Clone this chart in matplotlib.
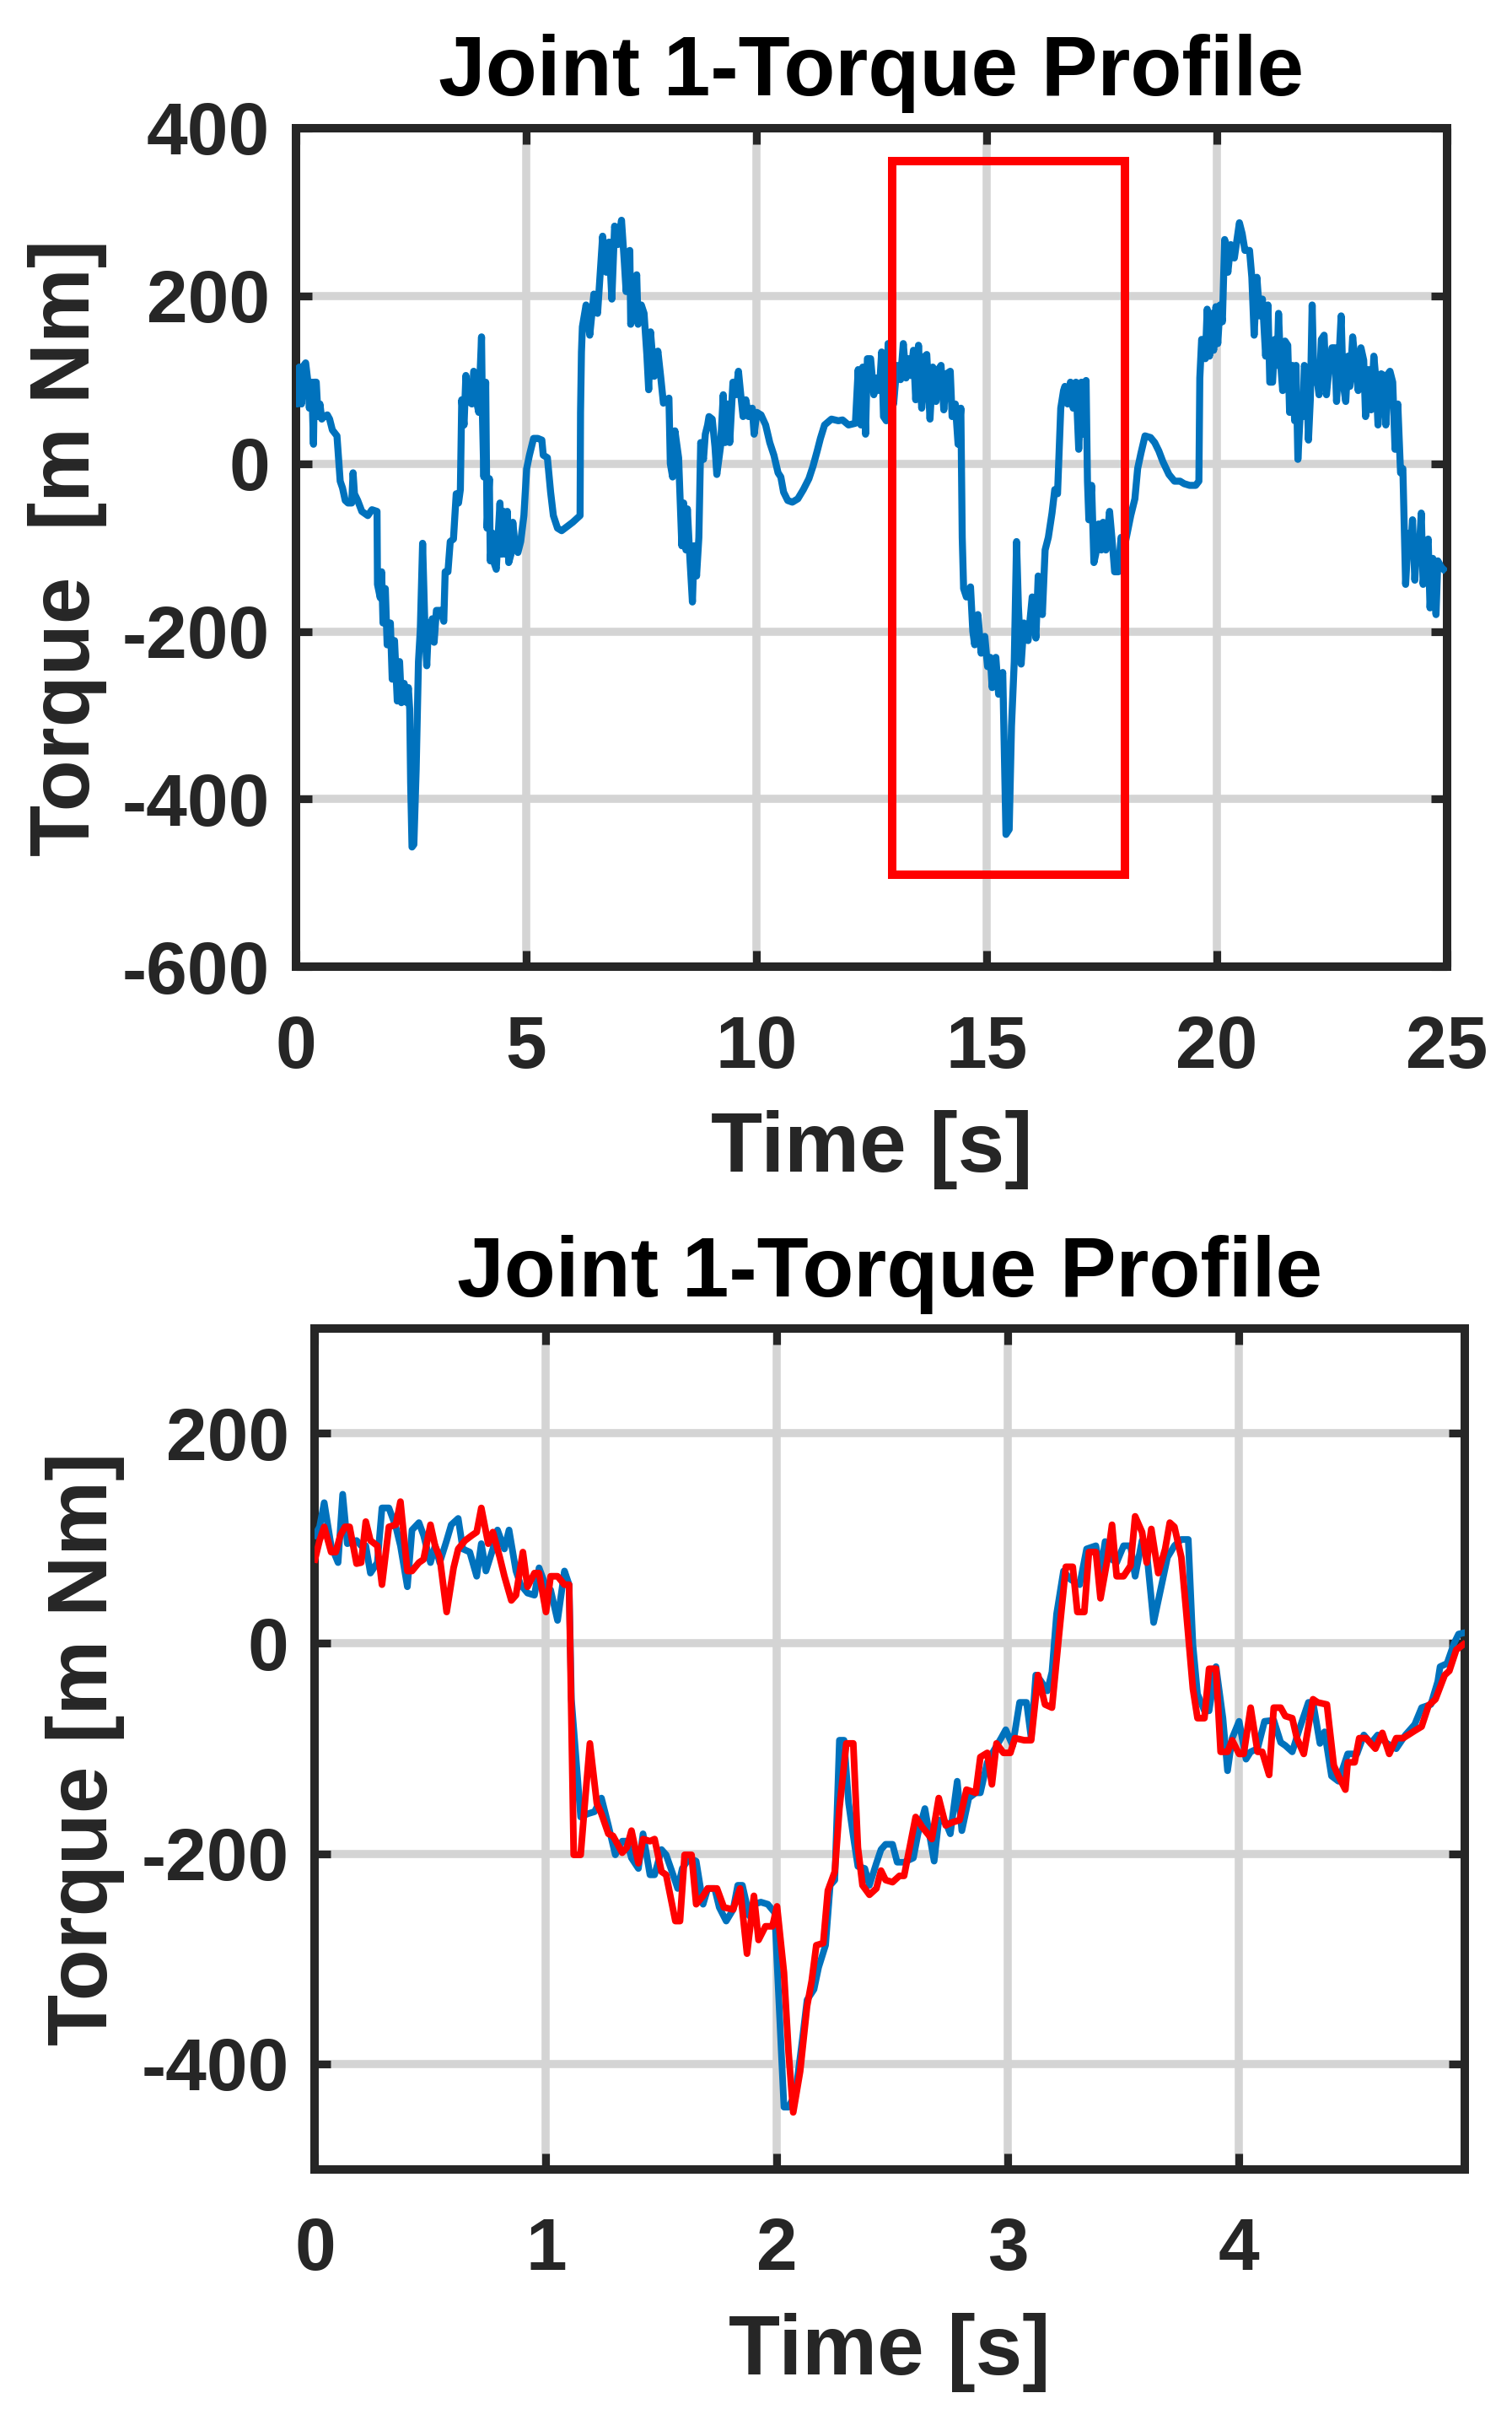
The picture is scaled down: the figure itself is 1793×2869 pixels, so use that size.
import matplotlib
matplotlib.use("Agg")
import matplotlib.pyplot as plt
from matplotlib.patches import Rectangle

plt.rcParams["font.family"] = ["Liberation Sans", "DejaVu Sans"]
plt.rcParams["font.weight"] = "bold"
plt.rcParams["axes.unicode_minus"] = False

INK = "#262626"
GRID = "#d4d4d4"
BLUE = "#0072bd"
RED = "#ff0000"

# --- full run, 0..25 s ---
t_full = [
    0.00, 0.03, 0.07, 0.12, 0.17, 0.21, 0.26, 0.29, 0.34, 0.38,
    0.40, 0.44, 0.48, 0.52, 0.56, 0.61, 0.68, 0.73, 0.79, 0.89,
    0.92, 0.96, 1.01, 1.07, 1.13, 1.21, 1.24, 1.27, 1.34, 1.43,
    1.56, 1.65, 1.76, 1.77, 1.83, 1.86, 1.89, 1.94, 1.98, 2.05,
    2.09, 2.14, 2.20, 2.25, 2.29, 2.35, 2.41, 2.44, 2.47, 2.49,
    2.52, 2.56, 2.61, 2.66, 2.70, 2.75, 2.80, 2.84, 2.88, 2.92,
    2.96, 3.00, 3.05, 3.14, 3.21, 3.24, 3.30, 3.35, 3.42, 3.48,
    3.53, 3.57, 3.60, 3.65, 3.69, 3.75, 3.82, 3.86, 3.91, 3.94,
    3.97, 4.00, 4.03, 4.05, 4.08, 4.12, 4.15, 4.20, 4.22, 4.27,
    4.30, 4.35, 4.40, 4.43, 4.47, 4.51, 4.55, 4.59, 4.62, 4.67,
    4.71, 4.76, 4.82, 4.88, 4.95, 5.01, 5.07, 5.16, 5.25, 5.34,
    5.37, 5.46, 5.53, 5.59, 5.68, 5.77, 5.89, 6.01, 6.17, 6.18,
    6.20,
    6.22, 6.30, 6.38, 6.47, 6.55, 6.66, 6.74, 6.80, 6.86, 6.92,
    6.99, 7.07, 7.13, 7.17, 7.25, 7.27, 7.33, 7.40, 7.43, 7.50,
    7.56, 7.62, 7.66, 7.70, 7.78, 7.86, 7.92, 7.98, 8.10, 8.13,
    8.18, 8.23, 8.31,
    8.38, 8.42, 8.47, 8.50, 8.55, 8.61, 8.65, 8.70, 8.75, 8.79,
    8.85, 8.89, 8.94, 8.97, 9.04, 9.10, 9.14, 9.22, 9.28, 9.32,
    9.37, 9.42, 9.49, 9.55, 9.61, 9.66, 9.71, 9.77, 9.83, 9.91,
    9.95, 10.01, 10.10, 10.20, 10.29, 10.38, 10.47, 10.53, 10.59, 10.68,
    10.78, 10.90, 11.02, 11.14, 11.23, 11.32, 11.39, 11.48, 11.63, 11.78,
    11.87, 12.00, 12.15, 12.21, 12.27, 12.31, 12.37, 12.41, 12.48, 12.55,
    12.61, 12.67, 12.72, 12.76, 12.82, 12.86, 12.92, 12.98, 13.05, 13.13,
    13.19, 13.25, 13.31, 13.35, 13.41, 13.46, 13.52, 13.59, 13.66, 13.70,
    13.77, 13.83, 13.90, 13.95, 14.01, 14.07, 14.13, 14.21, 14.25, 14.32,
    14.38, 14.44, 14.47, 14.50, 14.56, 14.65, 14.70, 14.74, 14.81, 14.88,
    14.96, 15.02, 15.08, 15.12, 15.20, 15.26, 15.35, 15.38, 15.42, 15.49,
    15.54, 15.60, 15.65, 15.69, 15.75, 15.81, 15.90, 15.99, 16.07, 16.12,
    16.21, 16.27, 16.34, 16.42, 16.48, 16.54, 16.61, 16.67,
    16.70, 16.76, 16.82, 16.88, 16.94, 17.00, 17.06, 17.09, 17.16, 17.19,
    17.22, 17.28, 17.33, 17.37, 17.43, 17.49, 17.53, 17.59, 17.67, 17.72,
    17.78, 17.86, 17.92, 17.98, 18.13, 18.22, 18.28, 18.35, 18.44, 18.56,
    18.65, 18.74, 18.83, 18.96, 19.08, 19.20, 19.29, 19.41, 19.54, 19.61,
    19.63, 19.67, 19.75, 19.79, 19.84, 19.89, 19.93, 19.98, 20.02, 20.07,
    20.12,
    20.17, 20.24, 20.30, 20.38, 20.49, 20.55, 20.61, 20.71, 20.76, 20.81,
    20.87, 20.93, 20.99,
    21.06, 21.11, 21.15, 21.21, 21.26, 21.31, 21.34, 21.38, 21.43, 21.48,
    21.54, 21.58, 21.64, 21.69, 21.72, 21.76, 21.83, 21.87, 21.90, 21.95,
    21.99, 22.03, 22.07, 22.11, 22.16, 22.22, 22.27, 22.33, 22.38, 22.44,
    22.50, 22.56, 22.60, 22.65, 22.70, 22.74, 22.80, 22.85, 22.89, 22.95,
    23.02, 23.07, 23.13, 23.19, 23.23, 23.29, 23.35, 23.41, 23.46, 23.50,
    23.57, 23.63, 23.67, 23.72, 23.76, 23.82, 23.87, 23.93, 23.99, 24.04,
    24.07, 24.10, 24.16, 24.21, 24.25, 24.30, 24.35, 24.39, 24.44, 24.48,
    24.54, 24.59, 24.63, 24.69, 24.76, 24.80, 24.88, 24.92,
]
tau_full = [
    112, 71, 115, 71, 117, 120, 97, 66, 97, 23,
    97, 97, 56, 71, 53, 56, 58, 53, 40, 33,
    10, -21, -29, -44, -47, -47, -11, -36, -44, -57,
    -62, -55, -57, -144, -160, -129, -190, -149, -216, -190,
    -257, -211, -283, -236, -285, -262, -285, -267, -293, -380,
    -457, -454, -365, -236, -198, -95, -195, -241, -190, -200,
    -185, -213, -175, -175, -188, -129, -129, -93, -90, -36,
    -47, -31, 76, 46, 105, 74, 71, 110, 105, 69,
    61, 110, 151, 56, -16, 97, -77, -18, -116, -83,
    -118, -126, -77, -47, -108, -57, -108, -57, -118, -108,
    -70, -98, -106, -93, -62, -6, 10, 30, 30, 28,
    10, 7, -34, -62, -77, -80, -75, -70, -62, 61,
    133,
    163, 189, 153, 202, 179, 271, 228, 264, 196, 283,
    261, 290, 241, 205, 254, 166, 189, 225, 166, 189,
    179, 130, 88, 157, 104, 134, 104, 72, 78, 0,
    -16, 39, 7,
    -98, -47, -103, -54, -108, -165, -98, -134, -88, 25,
    5, 35, 46, 56, 53, 20, -13, 20, 82, 25,
    71, 25, 97, 82, 110, 82, 56, 76, 56, 66,
    35, 61, 58, 46, 25, 10, -11, -16, -34, -44,
    -46, -42, -31, -18, -3, 15, 30, 46, 53, 51,
    52, 46, 48, 112, 46, 115, 35, 125, 125, 82,
    102, 87, 133, 56, 51, 143, 105, 71, 117, 100,
    143, 102, 125, 105, 135, 76, 141, 66, 128, 130,
    53, 115, 74, 112, 117, 64, 107, 110, 56, 71,
    23, 66, -88, -149, -159, -147, -200, -216, -180, -226,
    -206, -242, -231, -267, -231, -275, -249, -334, -442, -436,
    -313, -236, -93, -170, -239, -190, -211, -159, -208, -134,
    -180, -103, -88, -59, -31, -36, 66, 87,
    92, 71, 97, 66, 97, 17, 97, 35, 99, -21,
    -67, -26, -118, -108, -72, -103, -70, -103, -57, -88,
    -129, -129, -88, -103, -62, -42, -6, 12, 33, 31,
    25, 15, 2, -13, -21, -21, -24, -26, -26, -21,
    102, 148, 125, 184, 128, 179, 135, 187, 143, 189,
    169,
    267, 228, 261, 245, 287, 274, 254, 254, 222, 153,
    222, 176, 196,
    128, 189, 97, 97, 148, 117, 179, 123, 87, 146,
    141, 61, 117, 51, 117, 5, 79, 56, 117, 107,
    28, 76, 189, 97, 107, 82, 148, 153, 82, 115,
    138, 138, 74, 123, 176, 97, 74, 128, 92, 151,
    112, 87, 138, 123, 56, 112, 64, 128, 97, 46,
    107, 105, 46, 107, 110, 97, 17, 71, -11, -6,
    -77, -144, -83, -103, -67, -139, -88, -108, -59, -144,
    -108, -90, -172, -113, -180, -116, -124, -126,
]

# zoom box on the full run: [t0, t1] x [tau0, tau1]
box_t = [12.95, 18.0]
box_tau = [-490, 360]

# --- zoomed window, 0..5 s, measured (blue) vs red ---
t_blue = [
    0.00, 0.02, 0.04, 0.07, 0.10, 0.12, 0.14, 0.18, 0.20, 0.22,
    0.24, 0.27, 0.29, 0.32, 0.35, 0.37, 0.40, 0.42, 0.45, 0.47,
    0.50, 0.52, 0.54, 0.57, 0.59, 0.62, 0.64, 0.67, 0.70, 0.72,
    0.74, 0.77, 0.79, 0.82, 0.84, 0.87, 0.89, 0.92, 0.95, 0.97,
    1.00, 1.02, 1.05, 1.08, 1.10, 1.11, 1.15, 1.18, 1.21, 1.24,
    1.27, 1.30, 1.33, 1.35, 1.37, 1.40, 1.42, 1.45, 1.47, 1.50,
    1.52, 1.55, 1.57, 1.59, 1.62, 1.65, 1.68, 1.70, 1.73, 1.75,
    1.78, 1.81, 1.83, 1.85, 1.88, 1.90, 1.93, 1.96, 1.99, 2.00,
    2.03, 2.05, 2.08, 2.11, 2.13, 2.16, 2.18, 2.21, 2.23, 2.25,
    2.27, 2.29, 2.31, 2.33, 2.35, 2.38, 2.40, 2.43, 2.45, 2.47,
    2.50, 2.52, 2.55, 2.59, 2.61, 2.64, 2.68, 2.70, 2.73, 2.75,
    2.78, 2.80, 2.83, 2.86, 2.88, 2.91, 2.93, 2.97, 2.99, 3.02,
    3.05, 3.08, 3.10, 3.12, 3.14, 3.17, 3.19, 3.21, 3.24, 3.27,
    3.31, 3.34, 3.38, 3.40, 3.42, 3.45, 3.47, 3.50, 3.53, 3.55,
    3.58, 3.60, 3.63, 3.66, 3.69, 3.72, 3.75, 3.78, 3.80, 3.82,
    3.85, 3.87, 3.90, 3.93, 3.95, 3.97, 4.00, 4.03, 4.05, 4.08,
    4.11, 4.15, 4.18, 4.20, 4.23, 4.26, 4.30, 4.32, 4.35, 4.37,
    4.40, 4.43, 4.47, 4.51, 4.54, 4.57, 4.60, 4.64, 4.68, 4.72,
    4.76, 4.79, 4.83, 4.86, 4.87, 4.90, 4.93, 4.95, 4.97,
]
tau_blue = [
    103, 111, 134, 93, 77, 142, 95, 98, 93, 93,
    67, 77, 129, 129, 111, 93, 54, 108, 115, 103,
    77, 93, 77, 98, 113, 119, 90, 87, 64, 95,
    69, 90, 108, 90, 108, 69, 56, 48, 46, 72,
    54, 51, 22, 69, 56, -53, -165, -162, -160, -147,
    -173, -201, -188, -188, -204, -214, -181, -220, -220, -196,
    -201, -220, -233, -214, -204, -207, -248, -233, -233, -251,
    -264, -253, -230, -230, -259, -248, -246, -248, -256, -303,
    -441, -441, -428, -376, -339, -329, -308, -287, -230, -225,
    -92, -92, -152, -183, -212, -214, -230, -209, -196, -191,
    -191, -208, -208, -204, -181, -157, -207, -168, -170, -181,
    -131, -178, -147, -142, -142, -113, -105, -90, -82, -97,
    -56, -56, -90, -30, -35, -45, -27, 28, 69, 61,
    56, 90, 93, 69, 97, 80, 77, 93, 93, 64,
    98, 87, 20, 51, 82, 93, 99, 99, -1, -48,
    -64, -64, -22, -71, -121, -90, -74, -110, -103, -100,
    -74, -73, -94, -97, -103, -82, -56, -56, -95, -84,
    -126, -131, -105, -105, -87, -95, -87, -95, -100, -87,
    -77, -61, -58, -36, -22, -19, 0, 9, 10,
]
t_red = [
    0.00, 0.02, 0.04, 0.07, 0.09, 0.11, 0.13, 0.15, 0.18, 0.20,
    0.22, 0.24, 0.27, 0.29, 0.32, 0.35, 0.37, 0.40, 0.42, 0.45,
    0.47, 0.50, 0.52, 0.54, 0.57, 0.60, 0.62, 0.65, 0.68, 0.70,
    0.72, 0.75, 0.77, 0.80, 0.82, 0.85, 0.87, 0.90, 0.92, 0.95,
    0.97, 1.00, 1.02, 1.05, 1.08, 1.10, 1.12, 1.15, 1.17, 1.19,
    1.22, 1.24, 1.27, 1.29, 1.33, 1.35, 1.37, 1.40, 1.42, 1.45,
    1.47, 1.50, 1.52, 1.56, 1.58, 1.60, 1.63, 1.65, 1.68, 1.70,
    1.74, 1.77, 1.81, 1.84, 1.87, 1.90, 1.92, 1.95, 1.98, 2.00,
    2.03, 2.05, 2.07, 2.10, 2.13, 2.15, 2.17, 2.20, 2.22, 2.25,
    2.27, 2.30, 2.33, 2.35, 2.37, 2.40, 2.43, 2.45, 2.47,
    2.50, 2.53, 2.55, 2.60, 2.63, 2.67, 2.70, 2.73, 2.76, 2.79,
    2.82, 2.86, 2.88, 2.91, 2.93, 2.95, 2.98, 3.01, 3.03, 3.07,
    3.10, 3.13, 3.16, 3.19, 3.22, 3.25, 3.28, 3.30, 3.33, 3.35,
    3.38, 3.40, 3.43, 3.45, 3.47, 3.50, 3.53, 3.55, 3.58, 3.60,
    3.62, 3.65, 3.68, 3.70, 3.72, 3.75, 3.77, 3.80, 3.82, 3.85,
    3.87, 3.90, 3.92, 3.95, 3.97, 4.00, 4.02, 4.05, 4.08, 4.10,
    4.13, 4.15, 4.18, 4.20, 4.23, 4.25, 4.28, 4.32, 4.34, 4.38,
    4.41, 4.43, 4.46, 4.47, 4.50, 4.52, 4.55, 4.59, 4.62, 4.65,
    4.68, 4.71, 4.76, 4.79, 4.82, 4.85, 4.89, 4.91, 4.94, 4.97,
]
tau_red = [
    80, 98, 111, 87, 87, 103, 111, 111, 76, 77,
    116, 98, 93, 56, 111, 113, 135, 69, 69, 77,
    80, 113, 93, 82, 30, 72, 90, 98, 103, 106,
    129, 95, 106, 82, 64, 41, 46, 87, 54, 67,
    67, 30, 64, 64, 56, 56, -201, -201, -147, -95,
    -152, -162, -181, -183, -199, -194, -178, -209, -186, -188,
    -186, -217, -220, -264, -264, -201, -201, -248, -240, -233,
    -233, -251, -253, -233, -295, -240, -282, -269, -269, -250,
    -313, -389, -446, -407, -345, -321, -287, -285, -235, -217,
    -157, -95, -95, -194, -230, -239, -233, -216, -225,
    -227, -221, -221, -165, -175, -186, -147, -173, -170, -168,
    -139, -142, -108, -104, -134, -95, -104, -104, -90, -92,
    -92, -30, -58, -61, 7, 73, 73, 30, 30, 87,
    87, 43, 80, 113, 64, 64, 74, 121, 106, 77,
    109, 67, 90, 115, 111, 82, 33, -43, -71, -71,
    -24, -24, -103, -103, -92, -105, -105, -61, -103, -103,
    -125, -61, -61, -69, -71, -90, -105, -53, -56, -58,
    -116, -126, -139, -113, -113, -90, -90, -100, -85, -105,
    -90, -90, -83, -79, -59, -53, -30, -26, -6, -1,
]

xticks_full = [0, 5, 10, 15, 20, 25]
yticks_full = [-600, -400, -200, 0, 200, 400]
xticks_zoom = [0, 1, 2, 3, 4]
yticks_zoom = [-400, -200, 0, 200]

TITLE = "Joint 1-Torque Profile"


def style_axes(ax, xticks, yticks, xlim, ylim):
    """matlab-ish box: inward ticks on all sides, thick frame, light grid"""
    ax.set_xlim(xlim)
    ax.set_ylim(ylim)
    ax.set_xticks(xticks)
    ax.set_yticks(yticks)
    ax.set_axisbelow(True)
    ax.grid(True, color=GRID, linewidth=2.3)
    for sp in ax.spines.values():
        sp.set_linewidth(2.4)
        sp.set_color(INK)
    ax.tick_params(direction="in", length=4.6, width=2.2, color=INK,
                   labelcolor=INK, labelsize=21, top=True, right=True)
    ax.tick_params(axis="x", pad=13.5)
    ax.tick_params(axis="y", pad=7.4)


def add_labels(ax, ylabel, title_y, xlab_y, ylab_x):
    ax.text(0.5, title_y, TITLE, transform=ax.transAxes, ha="center",
            va="baseline", fontsize=24, fontweight="bold", color="black")
    ax.set_xlabel("Time [s]", fontsize=24, fontweight="bold", color=INK)
    ax.xaxis.set_label_coords(0.5, xlab_y)
    ax.xaxis.label.set_verticalalignment("baseline")
    ax.set_ylabel(ylabel, fontsize=24, fontweight="bold", color=INK)
    ax.yaxis.set_label_coords(ylab_x, 0.5)
    ax.yaxis.label.set_verticalalignment("baseline")


fig = plt.figure(figsize=(1793 / 300, 2869 / 300), dpi=300)
fig.patch.set_facecolor("white")

# top: full run with the zoom window marked
ax1 = fig.add_axes([0.19576, 0.60042, 0.76129, 0.34671])
ax1.plot(t_full, tau_full, color=BLUE, linewidth=2.0, zorder=3)
ax1.add_patch(Rectangle((box_t[0], box_tau[0]), box_t[1] - box_t[0],
                        box_tau[1] - box_tau[0], fill=False,
                        edgecolor=RED, linewidth=2.4, zorder=4))
style_axes(ax1, xticks_full, yticks_full, (0, 25), (-600, 400))
add_labels(ax1, "Torque  [m Nm]", 1.0389, -0.2442, -0.1795)

# bottom: zoomed window, two traces
ax2 = fig.add_axes([0.20831, 0.10366, 0.76018, 0.34751])
ax2.plot(t_blue, tau_blue, color=BLUE, linewidth=1.9, zorder=3)
ax2.plot(t_red, tau_red, color=RED, linewidth=1.9, zorder=4)
style_axes(ax2, xticks_zoom, yticks_zoom, (0, 4.975), (-500, 300))
add_labels(ax2, "Torque [m Nm]", 1.0377, -0.2441, -0.1809)

fig.savefig("out.png", dpi=300, facecolor="white")
